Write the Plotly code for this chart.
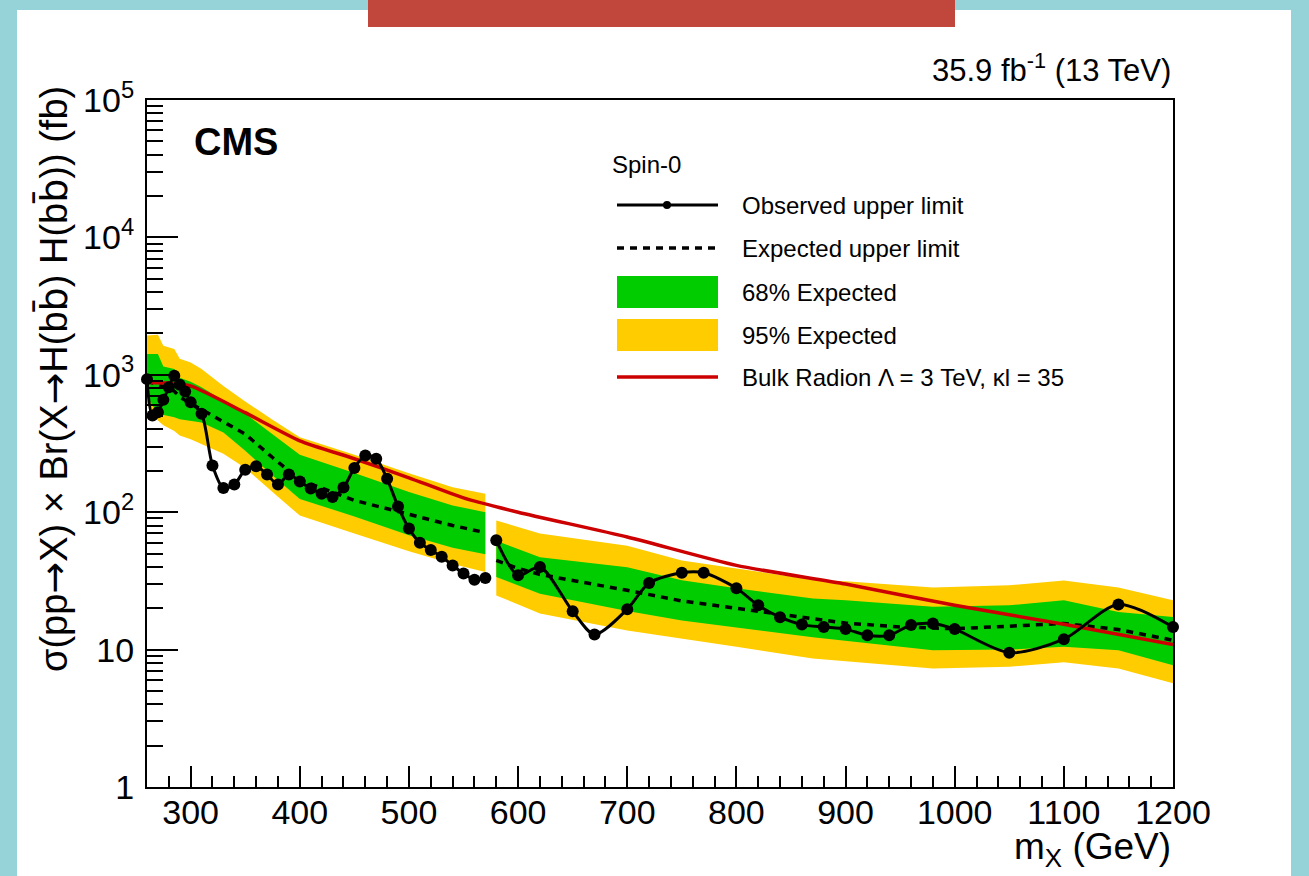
import plotly.graph_objects as go

# ---------------- data ----------------
# observed upper limit, low-mass and high-mass segments
obs_x1 = [260, 265, 270, 275, 280, 285, 290, 295, 300, 310, 320, 330, 340, 350, 360, 370, 380, 390,
          400, 410, 420, 430, 440, 450, 460, 470, 480, 490, 500, 510, 520, 530, 540, 550, 560, 570]
obs_y1 = [930, 505, 534, 657, 811, 986, 845, 755, 631, 520, 219, 150, 159, 204, 216, 188, 159, 188,
          167, 149, 136, 129, 151, 210, 259, 245, 175, 110, 76, 60, 53, 47.4, 41, 35.8, 32.2, 33.2]
obs_x2 = [580, 600, 620, 650, 670, 700, 720, 750, 770, 800, 820, 840, 860, 880, 900, 920, 940, 960,
          980, 1000, 1050, 1100, 1150, 1200]
obs_y2 = [62.4, 34.7, 39.9, 19.0, 12.9, 19.7, 30.5, 36.3, 36.3, 28.0, 21.0, 17.2, 15.2, 14.6, 14.1,
          12.7, 12.7, 15.1, 15.5, 14.1, 9.5, 11.9, 21.3, 14.6]

# expected upper limit
exp_x1 = [260, 270, 275, 285, 290, 300, 310, 330, 350, 375, 400, 450, 500, 540, 570]
exp_y1 = [900, 850, 820, 760, 690, 620, 560, 460, 370, 250, 172, 122, 97, 80, 71]
exp_x2 = [580, 600, 620, 650, 700, 750, 800, 850, 900, 950, 1000, 1050, 1100, 1150, 1200]
exp_y2 = [44.6, 39, 35.2, 32, 27, 22.6, 20, 17.5, 15.6, 14.6, 14.2, 14.8, 15.5, 14.0, 11.7]

# expected bands (68% green, 95% yellow)
band_x1 = [260, 270, 275, 285, 290, 300, 310, 330, 350, 375, 400, 450, 500, 540, 570]
y95_hi1 = [1930, 1960, 1630, 1540, 1310, 1230, 1100, 830, 640, 470, 351, 262, 192, 152, 136]
y68_hi1 = [1420, 1420, 1150, 1100, 950, 890, 810, 650, 520, 370, 262, 193, 140, 112, 100]
y68_lo1 = [690, 520, 510, 490, 475, 465, 450, 380, 280, 185, 125, 93, 68, 55, 49.4]
y95_lo1 = [615, 465, 430, 390, 361, 340, 315, 266, 210, 140, 94.5, 70, 52, 42, 36.7]

band_x2 = [580, 620, 700, 750, 800, 870, 900, 980, 1050, 1100, 1150, 1200]
y95_hi2 = [87, 70, 57, 44.6, 39, 32.3, 31.5, 28.3, 29.4, 31.9, 28.3, 22.9]
y68_hi2 = [62, 47, 39.8, 32, 28, 23.5, 22.9, 20.5, 21.0, 22.9, 18.8, 17.3]
y68_lo2 = [33.8, 25.5, 19.1, 16.3, 14.5, 12.3, 11.5, 9.9, 10.0, 10.5, 9.9, 7.7]
y95_lo2 = [24.8, 18.3, 13.8, 12.0, 10.5, 8.6, 8.3, 7.3, 7.5, 8.1, 7.3, 5.7]

# bulk radion theory curve
rad_x = [260, 280, 300, 350, 400, 450, 500, 550, 600, 700, 800, 900, 1000, 1100, 1200]
rad_y = [880, 870, 830, 530, 331, 245, 178, 127, 100, 66, 41, 30, 21, 15.3, 10.9]

x_ticks = [300, 400, 500, 600, 700, 800, 900, 1000, 1100, 1200]
y_ticks = [1, 10, 100, 1000, 10000, 100000]
y_ticktext = ["1", "10", "10<sup>2</sup>", "10<sup>3</sup>", "10<sup>4</sup>", "10<sup>5</sup>"]

legend_labels = ["Observed upper limit", "Expected upper limit", "68% Expected",
                 "95% Expected", "Bulk Radion \u039b = 3 TeV, \u03bal = 35"]

# ---------------- styling / layout ----------------
W, H = 1309, 876
L, R, T, B = 147, 1173, 100, 787
YELLOW = "#ffcc00"
GREEN = "#00cc00"
RED = "#cc0000"
FONT = "Liberation Sans"


def fx(p):
    return (p - L) / (R - L)


def fy(p):
    return (B - p) / (B - T)


fig = go.Figure()


def band(x, lo, hi, color):
    fig.add_trace(go.Scatter(
        x=list(x) + list(x)[::-1], y=list(hi) + list(lo)[::-1],
        fill="toself", fillcolor=color, mode="lines", line=dict(width=0),
        hoverinfo="skip", showlegend=False))


band(band_x1, y95_lo1, y95_hi1, YELLOW)
band(band_x1, y68_lo1, y68_hi1, GREEN)
band(band_x2, y95_lo2, y95_hi2, YELLOW)
band(band_x2, y68_lo2, y68_hi2, GREEN)

for ex, ey in [(exp_x1, exp_y1), (exp_x2, exp_y2)]:
    fig.add_trace(go.Scatter(x=ex, y=ey, mode="lines",
                             line=dict(color="black", width=3.5, dash="7px,6px"),
                             showlegend=False))

fig.add_trace(go.Scatter(x=rad_x, y=rad_y, mode="lines",
                         line=dict(color=RED, width=3.5, shape="spline", smoothing=0.6),
                         showlegend=False))

for ox, oy in [(obs_x1, obs_y1), (obs_x2, obs_y2)]:
    fig.add_trace(go.Scatter(x=ox, y=oy, mode="lines+markers",
                             line=dict(color="black", width=3, shape="spline", smoothing=0.8),
                             marker=dict(color="black", size=12),
                             cliponaxis=False, showlegend=False))

shapes = [
    # white panel
    dict(type="rect", xref="paper", yref="paper", x0=fx(17), x1=fx(1291), y0=fy(H + 10), y1=fy(10),
         fillcolor="white", line=dict(width=0), layer="below"),
    # red banner at top
    dict(type="rect", xref="paper", yref="paper", x0=fx(368), x1=fx(955), y0=fy(27), y1=fy(-5),
         fillcolor="#c1463b", line=dict(width=0), layer="above"),
]

# manual legend keys
key_x0, key_x1 = 617, 718
rows = [205, 248, 292, 335, 377]
shapes.append(dict(type="line", xref="paper", yref="paper", x0=fx(key_x0), x1=fx(key_x1),
                   y0=fy(rows[0]), y1=fy(rows[0]), line=dict(color="black", width=3)))
shapes.append(dict(type="circle", xref="paper", yref="paper", x0=fx(663), x1=fx(671),
                   y0=fy(rows[0] + 4), y1=fy(rows[0] - 4), fillcolor="black", line=dict(width=0)))
shapes.append(dict(type="line", xref="paper", yref="paper", x0=fx(key_x0), x1=fx(key_x1),
                   y0=fy(rows[1]), y1=fy(rows[1]), line=dict(color="black", width=3.5, dash="7px,6px")))
shapes.append(dict(type="rect", xref="paper", yref="paper", x0=fx(key_x0), x1=fx(key_x1),
                   y0=fy(rows[2] + 16), y1=fy(rows[2] - 16), fillcolor=GREEN, line=dict(width=0)))
shapes.append(dict(type="rect", xref="paper", yref="paper", x0=fx(key_x0), x1=fx(key_x1),
                   y0=fy(rows[3] + 16), y1=fy(rows[3] - 16), fillcolor=YELLOW, line=dict(width=0)))
shapes.append(dict(type="line", xref="paper", yref="paper", x0=fx(key_x0), x1=fx(key_x1),
                   y0=fy(rows[4]), y1=fy(rows[4]), line=dict(color=RED, width=3.5)))

ARROW = '<span style="font-family:DejaVu Sans">\u2192</span>'
BBAR = 'b<span style="font-family:DejaVu Sans">b\u0304</span>'
ytitle = ("\u03c3(pp" + ARROW + "X) \u00d7 Br(X" + ARROW + "H(" + BBAR + ") H(" + BBAR + ")) (fb)")

annotations = [
    dict(text="<b>CMS</b>", x=fx(192), y=fy(142), xanchor="left", yanchor="middle",
         font=dict(size=38, family=FONT, color="black")),
    dict(text="35.9 fb<sup>-1</sup> (13 TeV)", x=1.0, y=fy(68), xanchor="right", yanchor="middle",
         font=dict(size=31, family=FONT, color="black")),
    dict(text="m<sub>X</sub> (GeV)", x=1.0, y=fy(849), xanchor="right", yanchor="middle",
         font=dict(size=37, family=FONT, color="black")),
    dict(text=ytitle, x=fx(54), y=fy(84),
         xanchor="center", yanchor="top", textangle=-90,
         font=dict(size=38, family=FONT, color="black")),
    dict(text="Spin-0", x=fx(610), y=fy(164), xanchor="left", yanchor="middle",
         font=dict(size=24, family=FONT, color="black")),
]
for lab, r in zip(legend_labels, rows):
    annotations.append(dict(text=lab, x=fx(740), y=fy(r), xanchor="left", yanchor="middle",
                            font=dict(size=24, family=FONT, color="black")))
for a in annotations:
    a.update(xref="paper", yref="paper", showarrow=False)

y_minor = [k * 10 ** d for d in range(0, 5) for k in range(2, 10)]

fig.update_layout(
    width=W, height=H,
    margin=dict(l=L, r=W - R, t=T, b=H - B, pad=0),
    paper_bgcolor="#96d3d9", plot_bgcolor="white",
    font=dict(family=FONT, color="black"),
    shapes=shapes, annotations=annotations, showlegend=False,
    xaxis=dict(range=[260, 1200], showgrid=False, zeroline=False,
               showline=True, linecolor="black", linewidth=2, mirror=True,
               ticks="inside", ticklen=21, tickwidth=2, tickcolor="black",
               tickmode="array", tickvals=x_ticks, tickfont=dict(size=34, family=FONT),
               ticklabelstandoff=-6,
               minor=dict(ticks="inside", ticklen=11, tickwidth=2, tickcolor="black",
                          tickmode="array", tickvals=list(range(260, 1201, 20)), showgrid=False)),
    yaxis=dict(type="log", range=[0, 5], showgrid=False, zeroline=False,
               showline=True, linecolor="black", linewidth=2, mirror=True,
               ticks="inside", ticklen=31, tickwidth=2, tickcolor="black",
               tickmode="array", tickvals=y_ticks, ticktext=y_ticktext,
               tickfont=dict(size=34, family=FONT), ticklabelstandoff=4,
               minor=dict(ticks="inside", ticklen=16, tickwidth=2, tickcolor="black",
                          tickmode="array", tickvals=y_minor, showgrid=False)),
)

fig.write_html("out.html", config={"displayModeBar": False},
               post_script="document.body.style.margin='0';document.body.style.padding='0';"
                           "document.body.style.overflow='hidden';")
